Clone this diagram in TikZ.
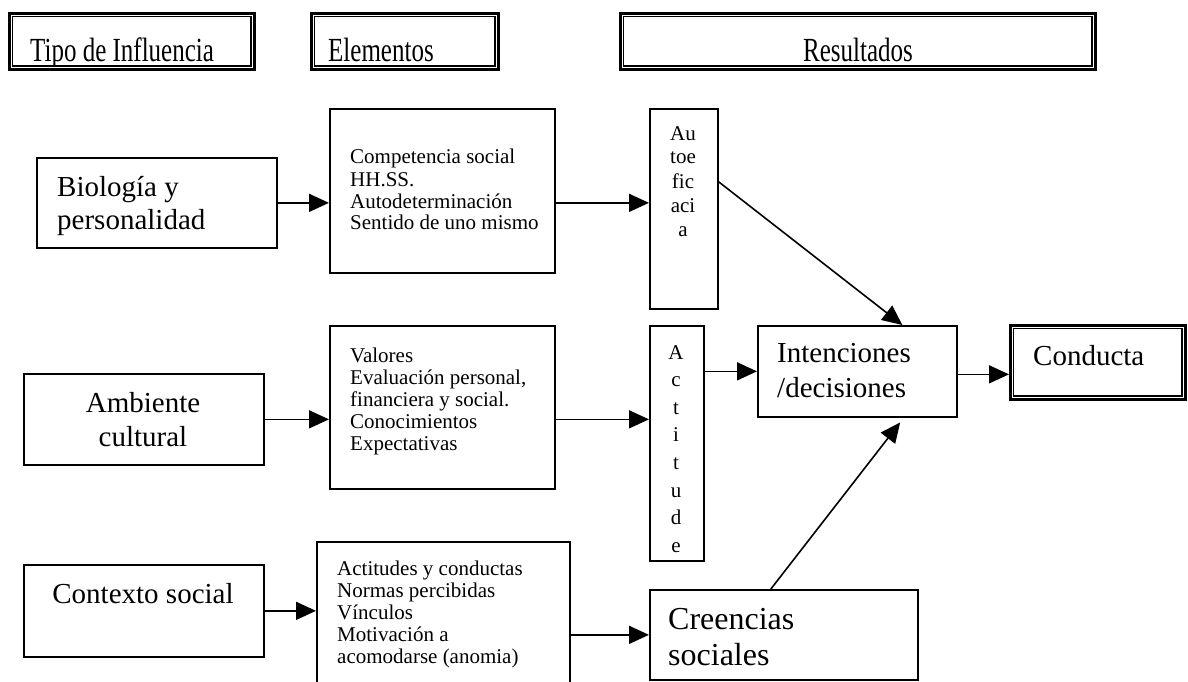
\documentclass[tikz,border=0pt]{standalone}
\usepackage{graphicx}
\usepackage{fontspec}
\setmainfont{Liberation Serif}
\usetikzlibrary{arrows.meta,calc}

\tikzset{
  box/.style={draw, line width=1.7pt, inner sep=0pt, anchor=north west},
  dblbox/.style={draw, line width=2.6pt, inner sep=0pt, anchor=north west},
  innerline/.style={line width=1.4pt},
  arr/.style={line width=1.6pt, -{Triangle[length=20pt,width=18pt]}},
  lbl/.style={inner sep=0pt, anchor=base west},
  clbl/.style={inner sep=0pt, anchor=base},
}
% header captions are set slightly tall
\newcommand{\hdrtext}[1]{\scalebox{1}[1.35]{\fontsize{25}{29}\selectfont #1}}
\newcommand{\bigfont}{\fontsize{29}{33}\selectfont}
\newcommand{\smallfont}{\fontsize{21}{22}\selectfont}

\begin{document}
\begin{tikzpicture}[x=1pt,y=-1pt]
\useasboundingbox (0,0) rectangle (1188,682);

% header boxes (double frame)
\node[dblbox, minimum width=245pt, minimum height=56pt] (tipo) at (8,12) {};
\node[dblbox, minimum width=187pt, minimum height=56pt] (elem) at (310,12) {};
\node[dblbox, minimum width=475pt, minimum height=56pt] (res) at (619,12) {};
\foreach \n in {tipo,elem,res}
  \draw[innerline] ([shift={(4.6pt,-4.6pt)}]\n.north west) rectangle ([shift={(-4.6pt,4.6pt)}]\n.south east);

\begin{scope}
  \clip ([shift={(5.5pt,-5.5pt)}]tipo.north west) rectangle ([shift={(-5.5pt,5.5pt)}]tipo.south east);
  \node[lbl] (t-tipo) at (30,61.5) {\hdrtext{Tipo de Influencia}};
\end{scope}
\node[lbl] (t-elem) at (328,61.5) {\hdrtext{Elementos}};
\node[clbl] (t-res) at (858,61.5) {\hdrtext{Resultados}};

% influence boxes
\node[box, minimum width=240pt, minimum height=90pt] (bio) at (36,157) {};
\node[box, minimum width=240pt, minimum height=91pt] (amb) at (23,373) {};
\node[box, minimum width=240pt, minimum height=92pt] (ctx) at (23,564) {};

\node[lbl] (t-bio) at (57,196) {\parbox[t]{220pt}{\bigfont Biología y\\personalidad}};
\node[clbl] (t-amb) at (143,412) {\parbox[t]{220pt}{\centering\fontsize{29}{34}\selectfont Ambiente\\cultural}};
\node[clbl] (t-ctx) at (143,603) {\bigfont Contexto social};

% element boxes
\node[box, minimum width=225pt, minimum height=164pt] (comp) at (329,108) {};
\node[box, minimum width=225pt, minimum height=163pt] (val) at (329,325) {};
\node[box, minimum width=253pt, minimum height=170pt] (soc) at (316,541) {};

\node[lbl] (t-comp) at (350,164) {\parbox[t]{200pt}{\smallfont Competencia social\\HH.SS.\\Autodeterminación\\Sentido de uno mismo}};
\node[lbl] (t-val) at (350,362) {\parbox[t]{200pt}{\smallfont Valores\\Evaluación personal,\\financiera y social.\\Conocimientos\\Expectativas}};
\node[lbl] (t-soc) at (337,575) {\parbox[t]{230pt}{\smallfont Actitudes y conductas\\Normas percibidas\\Vínculos\\Motivación a\\acomodarse (anomia)}};

% result boxes
\node[box, minimum width=68pt, minimum height=200pt] (auto) at (649,108) {};
\node[box, minimum width=54pt, minimum height=235pt] (acti) at (649,325) {};
\node[box, minimum width=199pt, minimum height=91pt] (int) at (757,325) {};
\node[box, minimum width=268pt, minimum height=90pt] (cre) at (649,589) {};
\node[dblbox, minimum width=175pt, minimum height=74pt] (cond) at (1009,324) {};
\draw[innerline] ([shift={(4.6pt,-4.6pt)}]cond.north west) rectangle ([shift={(-4.6pt,4.6pt)}]cond.south east);

\node[clbl] (t-auto) at (683,140) {\parbox[t]{60pt}{\centering\fontsize{21}{24}\selectfont Au\\toe\\fic\\aci\\a}};
\node[clbl] (t-acti) at (676,359) {\parbox[t]{50pt}{\centering\fontsize{21}{27.6}\selectfont A\\c\\t\\i\\t\\u\\d\\e}};
\node[lbl] (t-int) at (777,362) {\parbox[t]{190pt}{\fontsize{29}{35}\selectfont Intenciones\\/decisiones}};
\node[lbl] (t-cre) at (668,629) {\parbox[t]{240pt}{\fontsize{32}{36}\selectfont Creencias\\sociales}};
\node[lbl] (t-cond) at (1033,365) {\bigfont Conducta};

% connectors
\coordinate (int-out) at ([yshift=-3pt]int.east);
\draw[arr] (bio.east) -- (comp.west |- bio.east);
\draw[arr] (comp.east |- bio.east) -- (auto.west |- bio.east);
\draw[arr] (amb.east) -- (val.west |- amb.east);
\draw[arr] (val.east |- amb.east) -- (acti.west |- amb.east);
\draw[arr] (ctx.east) -- (soc.west |- ctx.east);
\draw[arr] (soc.east |- cre.west) -- (cre.west);
\draw[arr] (acti.east |- int.west) -- (int.west);
\draw[arr] (int-out) -- (cond.west |- int-out);
\draw[arr] ([yshift=27pt]auto.east) -- ([xshift=45pt]int.north);
\draw[arr, shorten >=6pt] ([xshift=-13pt]cre.north) -- ([xshift=46.5pt]int.south);

\end{tikzpicture}
\end{document}
